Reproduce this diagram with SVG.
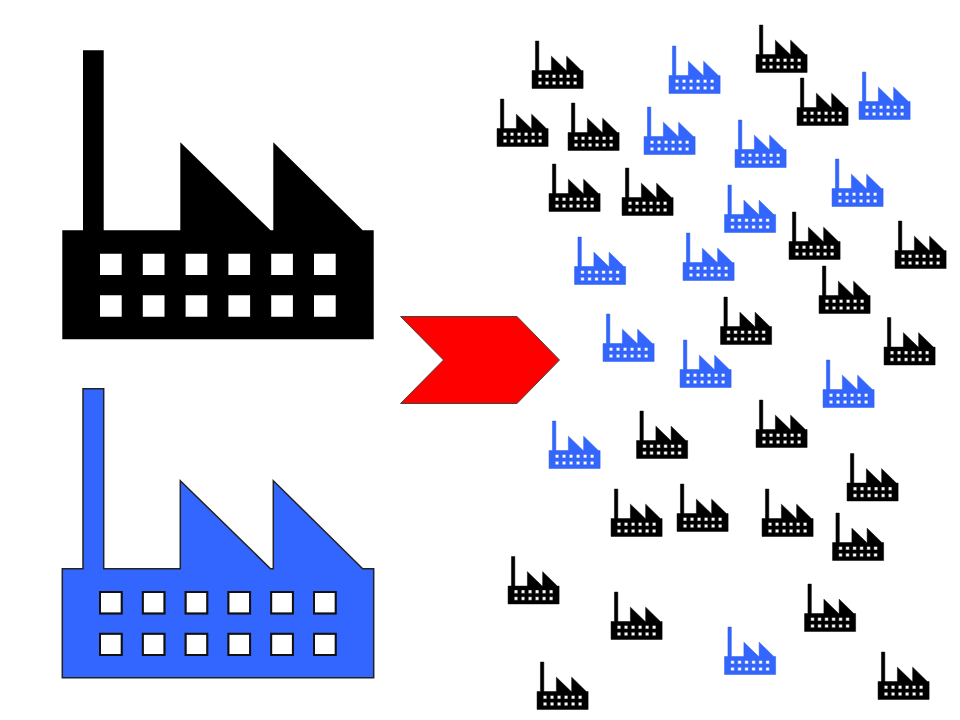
<svg xmlns="http://www.w3.org/2000/svg" width="960" height="720" viewBox="0 0 960 720">
<style>
.k{fill:#000;fill-rule:evenodd}
.b{fill:#3366ff;stroke:#222;stroke-width:1.5;fill-rule:evenodd}
.w{fill:none;stroke:#111;stroke-width:2}
.sk{fill:#000;stroke:#000;stroke-width:3;fill-rule:evenodd}
.sb{fill:#3366ff;stroke:#2c5be0;stroke-width:3;fill-rule:evenodd}
.a{fill:#ff0000;stroke:#444;stroke-width:1}
</style>
<defs>
<path id="f" d="M0.3 180.3H21V0.3H41.7V180.3H118.3V92.3L208.5 180.3H211.3V92.3L300.7 180.3H311.7V289.3H0.3Z M38 203.7V225H59.7V203.7Z M80.8 203.7V225H102.5V203.7Z M123.6 203.7V225H145.3V203.7Z M166.4 203.7V225H188.1V203.7Z M209.2 203.7V225H230.9V203.7Z M252 203.7V225H273.7V203.7Z M38 245.3V266.7H59.7V245.3Z M80.8 245.3V266.7H102.5V245.3Z M123.6 245.3V266.7H145.3V245.3Z M166.4 245.3V266.7H188.1V245.3Z M209.2 245.3V266.7H230.9V245.3Z M252 245.3V266.7H273.7V245.3Z"/>
<path id="w" d="M38 203.7V225H59.7V203.7Z M80.8 203.7V225H102.5V203.7Z M123.6 203.7V225H145.3V203.7Z M166.4 203.7V225H188.1V203.7Z M209.2 203.7V225H230.9V203.7Z M252 203.7V225H273.7V203.7Z M38 245.3V266.7H59.7V245.3Z M80.8 245.3V266.7H102.5V245.3Z M123.6 245.3V266.7H145.3V245.3Z M166.4 245.3V266.7H188.1V245.3Z M209.2 245.3V266.7H230.9V245.3Z M252 245.3V266.7H273.7V245.3Z"/>
</defs>
<rect width="960" height="720" fill="#fff"/>
<g id="large-black"><use href="#f" class="k" transform="translate(62,50)"/></g>
<g id="large-blue" transform="translate(62,388.4)"><use href="#f" class="b"/><use href="#w" class="w"/></g>
<g id="arrow"><path class="a" d="M400.5 316.5H517L559.5 360L517 403.5H400.5L443.5 360Z"/></g>
<g id="small-black">
<use href="#f" class="sk" transform="translate(532,41) scale(.164)"/>
<use href="#f" class="sk" transform="translate(756,25) scale(.164)"/>
<use href="#f" class="sk" transform="translate(797,78) scale(.164)"/>
<use href="#f" class="sk" transform="translate(497,99) scale(.164)"/>
<use href="#f" class="sk" transform="translate(568,103) scale(.164)"/>
<use href="#f" class="sk" transform="translate(549,164) scale(.164)"/>
<use href="#f" class="sk" transform="translate(622,168) scale(.164)"/>
<use href="#f" class="sk" transform="translate(789,212) scale(.164)"/>
<use href="#f" class="sk" transform="translate(895,221) scale(.164)"/>
<use href="#f" class="sk" transform="translate(819,266) scale(.164)"/>
<use href="#f" class="sk" transform="translate(720.500,297) scale(.164)"/>
<use href="#f" class="sk" transform="translate(884,317.500) scale(.164)"/>
<use href="#f" class="sk" transform="translate(756,400) scale(.164)"/>
<use href="#f" class="sk" transform="translate(636.500,411) scale(.164)"/>
<use href="#f" class="sk" transform="translate(847,453.500) scale(.164)"/>
<use href="#f" class="sk" transform="translate(611,489) scale(.164)"/>
<use href="#f" class="sk" transform="translate(677,484) scale(.164)"/>
<use href="#f" class="sk" transform="translate(762,489) scale(.164)"/>
<use href="#f" class="sk" transform="translate(832.500,513) scale(.164)"/>
<use href="#f" class="sk" transform="translate(508,556.500) scale(.164)"/>
<use href="#f" class="sk" transform="translate(611,592) scale(.164)"/>
<use href="#f" class="sk" transform="translate(804.500,584) scale(.164)"/>
<use href="#f" class="sk" transform="translate(878,652) scale(.164)"/>
<use href="#f" class="sk" transform="translate(537,662) scale(.164)"/>
</g>
<g id="small-blue">
<use href="#f" class="sb" transform="translate(669,46) scale(.164)"/>
<use href="#f" class="sb" transform="translate(859,72) scale(.164)"/>
<use href="#f" class="sb" transform="translate(644,107) scale(.164)"/>
<use href="#f" class="sb" transform="translate(735,120) scale(.164)"/>
<use href="#f" class="sb" transform="translate(832,159) scale(.164)"/>
<use href="#f" class="sb" transform="translate(724.500,185) scale(.164)"/>
<use href="#f" class="sb" transform="translate(574.500,237) scale(.164)"/>
<use href="#f" class="sb" transform="translate(683,233) scale(.164)"/>
<use href="#f" class="sb" transform="translate(603,314) scale(.164)"/>
<use href="#f" class="sb" transform="translate(680,340) scale(.164)"/>
<use href="#f" class="sb" transform="translate(823,360) scale(.164)"/>
<use href="#f" class="sb" transform="translate(549,421) scale(.164)"/>
<use href="#f" class="sb" transform="translate(724.500,627) scale(.164)"/>
</g>
</svg>
